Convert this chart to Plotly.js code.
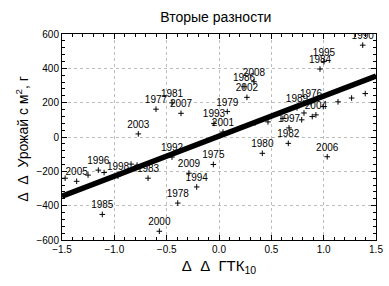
<!DOCTYPE html>
<html>
<head>
<meta charset="utf-8">
<script src="https://cdn.plot.ly/plotly-3.0.1.min.js"></script>
<style>html,body{margin:0;padding:0;background:#fff;}#chart{width:389px;height:286px;}</style>
</head>
<body>
<div id="chart"></div>
<script>
// Point labels (years; "" = unlabeled point)
const years = ["2003","1977","1981","2007","1993","2001","1979","2002","1986","2008",
  "1995","1984","1990","1976","1989","2004","1997","1982","1980","2006",
  "1975","2009","1994","1978","2000","1985","2005","1996","1998","1983","1992",
  "","","","","","","","","","","","","","",""];
// ΔΔ ГТК10
const dGTK = [-0.771,-0.602,-0.449,-0.363,-0.048,0.038,0.079,0.267,0.239,0.334,
  1.003,0.965,1.373,0.879,0.745,0.926,0.669,0.662,0.414,1.034,
  -0.054,-0.287,-0.213,-0.394,-0.570,-1.115,-1.360,-1.153,-0.965,-0.678,-0.449,
  -1.098,-0.840,-0.783,-1.251,0.468,0.611,0.790,0.812,0.891,0.996,1.137,1.267,1.397,0.344,-1.470];
// ΔΔ yield, g per m2
const dYield = [18,162,199,138,79,29,148,231,293,322,
  439,396,535,199,170,129,53,-37,-95,-115,
  -160,-211,-291,-385,-549,-451,-258,-193,-228,-240,-117,
  -207,-158,-164,-222,88,108,100,140,119,177,205,227,253,82,-240];
// regression line
const lineX = [-1.5, 1.5];
const lineY = [-345, 355];

const font = 'Arial, "Liberation Sans", sans-serif';
const traces = [
  {x: lineX, y: lineY, type: 'scatter', mode: 'lines',
   line: {color: '#000', width: 5.5}, hoverinfo: 'skip', showlegend: false},
  {x: dGTK, y: dYield, text: years, type: 'scatter', mode: 'markers+text',
   textposition: 'top center', cliponaxis: true,
   textfont: {family: font, size: 10, color: '#000'},
   marker: {symbol: 'cross-thin', size: 4, line: {color: '#000', width: 1}, color: '#000'},
   showlegend: false}
];
const axisCommon = {
  showline: true, linecolor: '#000', linewidth: 1, mirror: 'ticks',
  ticks: 'inside', ticklen: 5, tickcolor: '#000',
  showgrid: true, gridcolor: '#bdbdbd', griddash: 'dot', gridwidth: 1,
  zeroline: false, tickfont: {family: font, size: 10, color: '#000'}
};
const layout = {
  width: 389, height: 286,
  margin: {l: 62, r: 13, t: 34, b: 46},
  paper_bgcolor: '#fff', plot_bgcolor: '#fff',
  title: {text: 'Вторые разности', font: {family: font, size: 14, color: '#000'},
          x: 0.49, xref: 'paper', xanchor: 'center', y: 0.94, yref: 'container', yanchor: 'middle'},
  xaxis: Object.assign({}, axisCommon, {
    range: [-1.5, 1.5], dtick: 0.5, tick0: -1.5, tickformat: '.1f',
    minor: {dtick: 0.1, ticks: 'inside', ticklen: 3, tickcolor: '#000', showgrid: false},
    title: {text: 'Δ\u00a0\u00a0Δ\u00a0\u00a0ГТК<sub>10</sub>', font: {family: font, size: 15, color: '#000'}, standoff: 6}
  }),
  yaxis: Object.assign({}, axisCommon, {
    range: [-600, 600], dtick: 200, tick0: -600,
    minor: {dtick: 40, ticks: 'inside', ticklen: 3, tickcolor: '#000', showgrid: false}
  }),
  annotations: [{
    text: 'Δ\u00a0\u00a0Δ\u00a0\u00a0Урожай с м<sup>2</sup>, г',
    font: {family: font, size: 14, color: '#000'},
    textangle: -90, showarrow: false,
    xref: 'paper', yref: 'paper', x: -0.128, y: 0.49, xanchor: 'center', yanchor: 'middle'
  }]
};
Plotly.newPlot('chart', traces, layout, {staticPlot: true, displayModeBar: false});
</script>
</body>
</html>
